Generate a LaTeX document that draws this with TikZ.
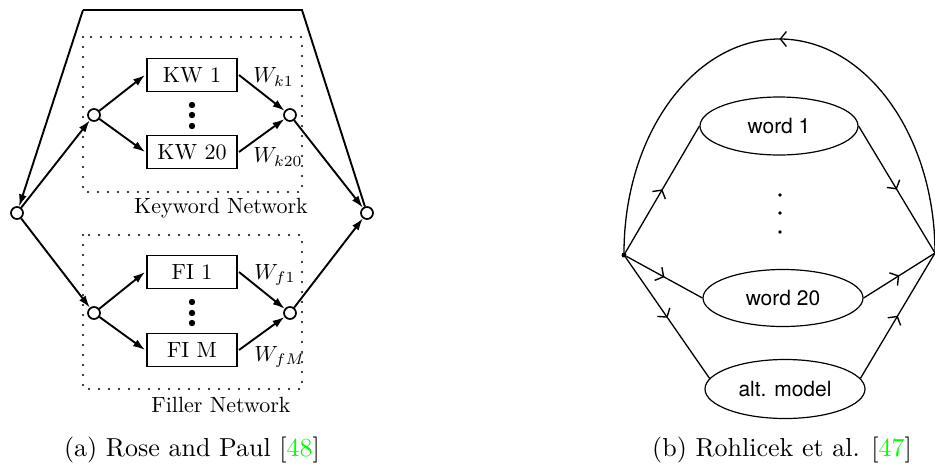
\documentclass[tikz,border=0pt]{standalone}
\usepackage{fontspec}
\newfontfamily\helv{TeX Gyre Heros}
\usetikzlibrary{arrows.meta,shapes.geometric,decorations.markings}

\tikzset{
  netnode/.style={circle, draw, line width=1.7pt, fill=white, inner sep=0pt, minimum size=12pt},
  netbox/.style={draw, line width=1.7pt, scale=2.2, minimum width=41pt, minimum height=15pt, inner sep=0pt},
  netlbl/.style={scale=2.2, inner sep=0pt},
  netedge/.style={line width=1.9pt, -{Latex[length=12pt,width=8pt]}},
  netwire/.style={line width=1.9pt},
  netframe/.style={line width=2.4pt, line cap=round, dash pattern=on 0pt off 10pt},
  capt/.style={scale=2.6, anchor=base},
  wordnode/.style={ellipse, draw, line width=1.2pt, minimum width=158pt, minimum height=58pt,
    font=\helv\fontsize{21}{24}\selectfont},
  hmmedge/.style={line width=1.3pt, postaction={decorate},
    decoration={markings, mark=at position 0.5 with {\arrow{Straight Barb[length=6pt,width=15pt,line width=1.4pt]}}}}
}

\begin{document}
\begin{tikzpicture}[x=1pt, y=-1pt]
  \useasboundingbox (0,0) rectangle (935,464);

  % --- (a) keyword / filler network ---
  % dotted frames around the two sub networks
  \draw[netframe] (83,37) rectangle (302,192);
  \draw[netframe] (83,235) rectangle (302,389);
  \node[netlbl] (kwnet) at (221,208) {Keyword Network};
  \node[netlbl] (finet) at (221,405) {Filler Network};

  % start, end and branch points
  \node[netnode] (start) at (17,213) {};
  \node[netnode] (stop) at (367,213) {};
  \node[netnode] (kin) at (94,115) {};
  \node[netnode] (kout) at (290,115) {};
  \node[netnode] (fin) at (94,313) {};
  \node[netnode] (fout) at (290,313) {};
  \coordinate (tl) at (83,10);
  \coordinate (tr) at (302,10);

  % model boxes
  \node[netbox] (kw1) at (192,75) {KW 1};
  \node[netbox] (kw20) at (192,152) {KW 20};
  \node[netbox] (fi1) at (192,272) {FI 1};
  \node[netbox] (fim) at (192,350) {FI M};
  \foreach \y in {105,115,126,302,313,323}
    \fill (192,\y) circle[radius=3.2pt];

  % weights
  \node[netlbl, anchor=west] (wk1) at (253,77) {$W_{k1}$};
  \node[netlbl, anchor=west] (wk20) at (253,157) {$W_{k20}$};
  \node[netlbl, anchor=west] (wf1) at (254,275) {$W_{f1}$};
  \node[netlbl, anchor=west] (wfm) at (254,357) {$W_{fM}$};

  % arcs
  \draw[netedge] (start) -- (kin);
  \draw[netedge] (start) -- (fin);
  \draw[netedge] (kin) -- (kw1.west);
  \draw[netedge] (kin) -- (kw20.west);
  \draw[netedge] (fin) -- (fi1.west);
  \draw[netedge] (fin) -- (fim.west);
  \draw[netedge] (kw1.east) -- (kout);
  \draw[netedge] (kw20.east) -- (kout);
  \draw[netedge] (fi1.east) -- (fout);
  \draw[netedge] (fim.east) -- (fout);
  \draw[netedge] (kout) -- (stop);
  \draw[netedge] (fout) -- (stop);
  % loop back over the top
  \draw[netwire] (stop) -- (tr) -- (tl);
  \draw[netedge] (tl) -- (start);

  \node[capt] (capa) at (192,456) {(a) Rose and Paul [\textcolor{green}{48}]};

  % --- (b) word models with loop ---
  \node[circle, fill, inner sep=0pt, minimum size=5pt] (lv) at (624,255) {};
  \coordinate (rv) at (935,253);
  \node[wordnode] (w1) at (779,126) {word 1};
  \node[wordnode, minimum width=160pt, minimum height=57pt] (w20) at (783,298) {word 20};
  \node[wordnode, minimum width=160pt, minimum height=59pt] (alt) at (785,389) {alt. model};
  \foreach \y in {195,213,232}
    \fill (780,\y) circle[radius=1.8pt];

  \draw[hmmedge] (lv) -- (w1.west);
  \draw[hmmedge] (w1.east) -- (rv);
  \draw[hmmedge] (lv) -- (w20.west);
  \draw[hmmedge] (w20.east) -- (rv);
  \draw[hmmedge] (lv) -- (alt.172);
  \draw[hmmedge] (alt.8) -- (rv);
  % return arc
  \draw[hmmedge] (rv) arc[start angle=0, end angle=-180, x radius=155.5, y radius=214];

  \node[capt] (capb) at (782,456) {(b) Rohlicek et al. [\textcolor{green}{47}]};
\end{tikzpicture}
\end{document}
